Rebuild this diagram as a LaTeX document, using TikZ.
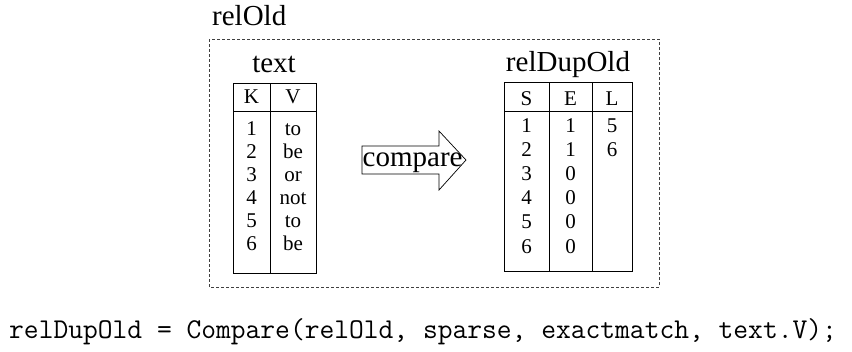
\documentclass[tikz,border=0pt]{standalone}
\usepackage{fontspec}
\setmainfont{Liberation Serif}
\begin{document}
\begin{tikzpicture}[x=1pt,y=1pt,
  title/.style={font=\fontsize{29}{29}\selectfont, inner sep=0pt},
  cell/.style={font=\fontsize{21}{21}\selectfont, inner sep=0pt, anchor=base},
  tbl/.style={line width=0.9pt},
  code/.style={font=\fontsize{28.7}{28.7}\ttfamily, inner sep=0pt, anchor=base west}]
\useasboundingbox (0,0) rectangle (852,-351);

% outer relation frame
\draw[black!75, line width=0.8pt, dash pattern=on 3pt off 2pt] (209,-39) rectangle (659,-287);
\node[title, anchor=base west] (relold) at (212,-25) {relOld};

% table "text"
\node[title, anchor=base] (tname) at (274,-72) {text};
\draw[tbl] (233,-83) rectangle (316,-273);
\draw[tbl] (233,-111) -- (316,-111);
\draw[tbl] (270,-83) -- (270,-273);
\node[cell] (tk) at (251.5,-103) {K};
\node[cell] (tv) at (293,-103) {V};
\foreach \k/\v [count=\i from 0] in {1/to,2/be,3/or,4/not,5/to,6/be}{
  \node[cell] (tk\k) at (251.5,-135-23*\i) {\k};
  \node[cell] (tv\k) at (293,-135-23*\i) {\v};
}

% compare arrow
\draw[line width=0.7pt] (362,-146) -- (439,-146) -- (439,-131) -- (466,-160)
  -- (439,-190) -- (439,-174) -- (362,-174) -- cycle;
\node[title, anchor=base west] (cmp) at (362.5,-166) {compare};

% table "relDupOld"
\node[title, anchor=base] (dname) at (568,-71) {relDupOld};
\draw[tbl] (504,-82) rectangle (632,-271);
\draw[tbl] (504,-111) -- (632,-111);
\draw[tbl] (549,-82) -- (549,-271);
\draw[tbl] (592,-82) -- (592,-271);
\node[cell] (ds) at (526.5,-105) {S};
\node[cell] (de) at (570.5,-105) {E};
\node[cell] (dl) at (612,-105) {L};
\foreach \s/\e [count=\i from 0] in {1/1,2/1,3/0,4/0,5/0,6/0}{
  \node[cell] (ds\s) at (526.5,-132-24.2*\i) {\s};
  \node[cell] (de\s) at (570.5,-132-24.2*\i) {\e};
}
\node[cell] (dl1) at (612,-132) {5};
\node[cell] (dl2) at (612,-156.2) {6};

% statement
\node[code] (stmt) at (9,-338) {relDupOld = Compare(relOld, sparse, exactmatch, text.V);};
\end{tikzpicture}
\end{document}
